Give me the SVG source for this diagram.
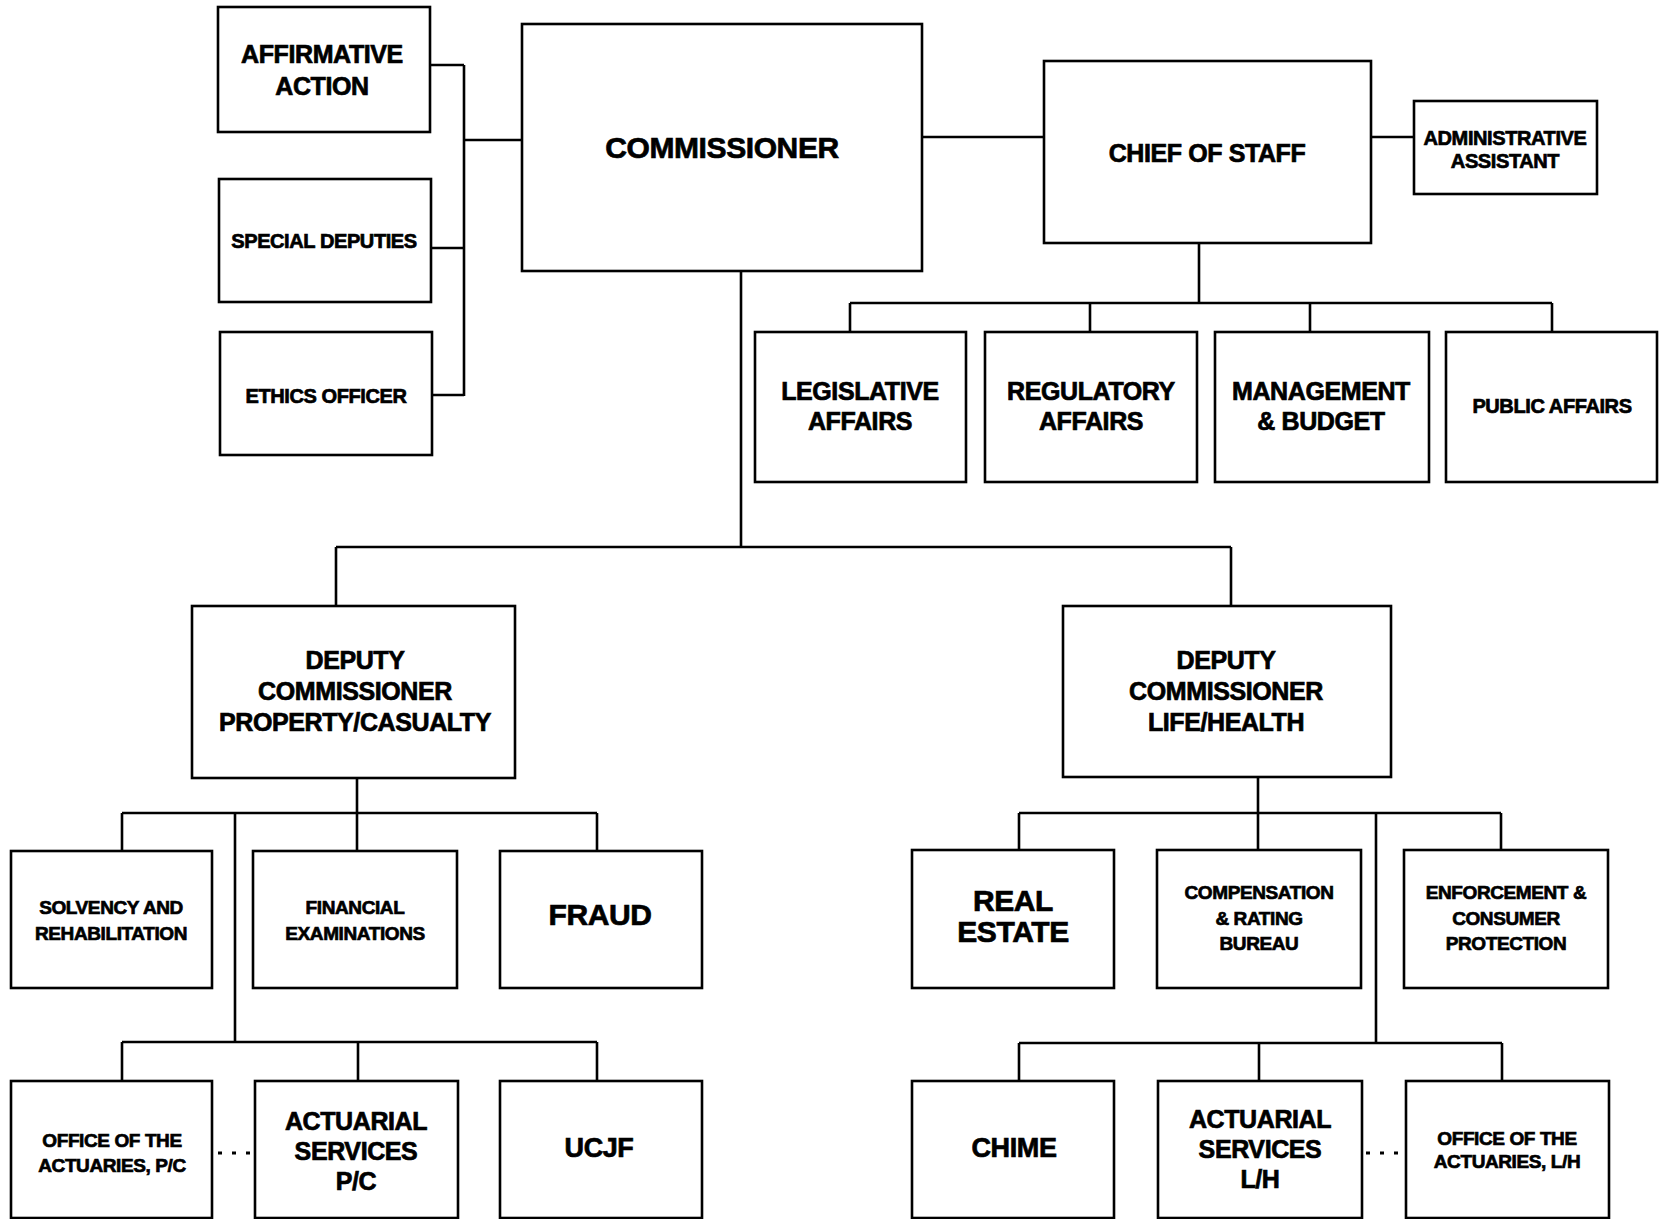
<svg xmlns="http://www.w3.org/2000/svg" width="1659" height="1219" viewBox="0 0 1659 1219">
<style>
.box{fill:#fff;stroke:#000;stroke-width:2.6}
.ln{fill:none;stroke:#000;stroke-width:2.6}
.dot{fill:none;stroke:#000;stroke-width:2.8;stroke-dasharray:4 10}
text{font-family:"Liberation Sans",Arial,sans-serif;font-weight:bold;fill:#000;stroke:#000;stroke-width:0.7;letter-spacing:-0.4px;text-anchor:middle}
.f30{font-size:30px}.f27{font-size:27px}.f25{font-size:25px}.f20{font-size:20px}.f19{font-size:19px}
</style>
<rect width="1659" height="1219" fill="#fff"/>
<g id="connectors">
<path class="ln" d="M430 65H464M431 248H464M432 395H464M464 65V396M464 140H522"/>
<path class="ln" d="M922 137H1044M1371 137H1414"/>
<path class="ln" d="M1199 243V303M850 303H1552M850 303V332M1090 303V332M1310 303V332M1552 303V332"/>
<path class="ln" d="M741 271V547M336 547H1231M336 547V606M1231 547V606"/>
<path class="ln" d="M357 778V813M122 813H597M122 813V851M357 813V851M597 813V851M235 813V1042M122 1042H597M122 1042V1081M358 1042V1081M597 1042V1081"/>
<path class="ln" d="M1258 777V813M1019 813H1501M1019 813V850M1258 813V850M1501 813V850M1376 813V1043M1019 1043H1502M1019 1043V1081M1259 1043V1081M1502 1043V1081"/>
<path class="dot" d="M218 1153H255M1366 1153H1406"/>
</g>
<g id="affirmative"><rect class="box" x="218" y="7" width="212" height="125"/><text class="f25" x="322" y="63">AFFIRMATIVE</text><text class="f25" x="322" y="95">ACTION</text></g>
<g id="special"><rect class="box" x="219" y="179" width="212" height="123"/><text class="f20" x="324" y="248">SPECIAL DEPUTIES</text></g>
<g id="ethics"><rect class="box" x="220" y="332" width="212" height="123"/><text class="f20" x="326" y="403">ETHICS OFFICER</text></g>
<g id="commissioner"><rect class="box" x="522" y="24" width="400" height="247"/><text class="f30" x="722" y="158">COMMISSIONER</text></g>
<g id="chief"><rect class="box" x="1044" y="61" width="327" height="182"/><text class="f25" x="1207" y="162">CHIEF OF STAFF</text></g>
<g id="admin"><rect class="box" x="1414" y="101" width="183" height="93"/><text class="f20" x="1505" y="145">ADMINISTRATIVE</text><text class="f20" x="1505" y="168">ASSISTANT</text></g>
<g id="legislative"><rect class="box" x="755" y="332" width="211" height="150"/><text class="f25" x="860" y="400">LEGISLATIVE</text><text class="f25" x="860" y="430">AFFAIRS</text></g>
<g id="regulatory"><rect class="box" x="985" y="332" width="212" height="150"/><text class="f25" x="1091" y="400">REGULATORY</text><text class="f25" x="1091" y="430">AFFAIRS</text></g>
<g id="management"><rect class="box" x="1215" y="332" width="214" height="150"/><text class="f25" x="1321" y="400">MANAGEMENT</text><text class="f25" x="1321" y="430">&amp; BUDGET</text></g>
<g id="public"><rect class="box" x="1446" y="332" width="211" height="150"/><text class="f20" x="1552" y="413">PUBLIC AFFAIRS</text></g>
<g id="deputy-pc"><rect class="box" x="192" y="606" width="323" height="172"/><text class="f25" x="355" y="669">DEPUTY</text><text class="f25" x="355" y="700">COMMISSIONER</text><text class="f25" x="355" y="731">PROPERTY/CASUALTY</text></g>
<g id="deputy-lh"><rect class="box" x="1063" y="606" width="328" height="171"/><text class="f25" x="1226" y="669">DEPUTY</text><text class="f25" x="1226" y="700">COMMISSIONER</text><text class="f25" x="1226" y="731">LIFE/HEALTH</text></g>
<g id="solvency"><rect class="box" x="11" y="851" width="201" height="137"/><text class="f19" x="111" y="914">SOLVENCY AND</text><text class="f19" x="111" y="940">REHABILITATION</text></g>
<g id="financial"><rect class="box" x="253" y="851" width="204" height="137"/><text class="f19" x="355" y="914">FINANCIAL</text><text class="f19" x="355" y="940">EXAMINATIONS</text></g>
<g id="fraud"><rect class="box" x="500" y="851" width="202" height="137"/><text class="f30" x="600" y="925">FRAUD</text></g>
<g id="real-estate"><rect class="box" x="912" y="850" width="202" height="138"/><text class="f30" x="1013" y="911">REAL</text><text class="f30" x="1013" y="942">ESTATE</text></g>
<g id="compensation"><rect class="box" x="1157" y="850" width="204" height="138"/><text class="f19" x="1259" y="899">COMPENSATION</text><text class="f19" x="1259" y="925">&amp; RATING</text><text class="f19" x="1259" y="950">BUREAU</text></g>
<g id="enforcement"><rect class="box" x="1404" y="850" width="204" height="138"/><text class="f19" x="1506" y="899">ENFORCEMENT &amp;</text><text class="f19" x="1506" y="925">CONSUMER</text><text class="f19" x="1506" y="950">PROTECTION</text></g>
<g id="office-pc"><rect class="box" x="11" y="1081" width="201" height="137"/><text class="f19" x="112" y="1147">OFFICE OF THE</text><text class="f19" x="112" y="1172">ACTUARIES, P/C</text></g>
<g id="actuarial-pc"><rect class="box" x="255" y="1081" width="203" height="137"/><text class="f25" x="356" y="1130">ACTUARIAL</text><text class="f25" x="356" y="1160">SERVICES</text><text class="f25" x="356" y="1190">P/C</text></g>
<g id="ucjf"><rect class="box" x="500" y="1081" width="202" height="137"/><text class="f27" x="599" y="1157">UCJF</text></g>
<g id="chime"><rect class="box" x="912" y="1081" width="202" height="137"/><text class="f27" x="1014" y="1157">CHIME</text></g>
<g id="actuarial-lh"><rect class="box" x="1158" y="1081" width="204" height="137"/><text class="f25" x="1260" y="1128">ACTUARIAL</text><text class="f25" x="1260" y="1158">SERVICES</text><text class="f25" x="1260" y="1188">L/H</text></g>
<g id="office-lh"><rect class="box" x="1406" y="1081" width="203" height="137"/><text class="f19" x="1507" y="1145">OFFICE OF THE</text><text class="f19" x="1507" y="1168">ACTUARIES, L/H</text></g>
</svg>
